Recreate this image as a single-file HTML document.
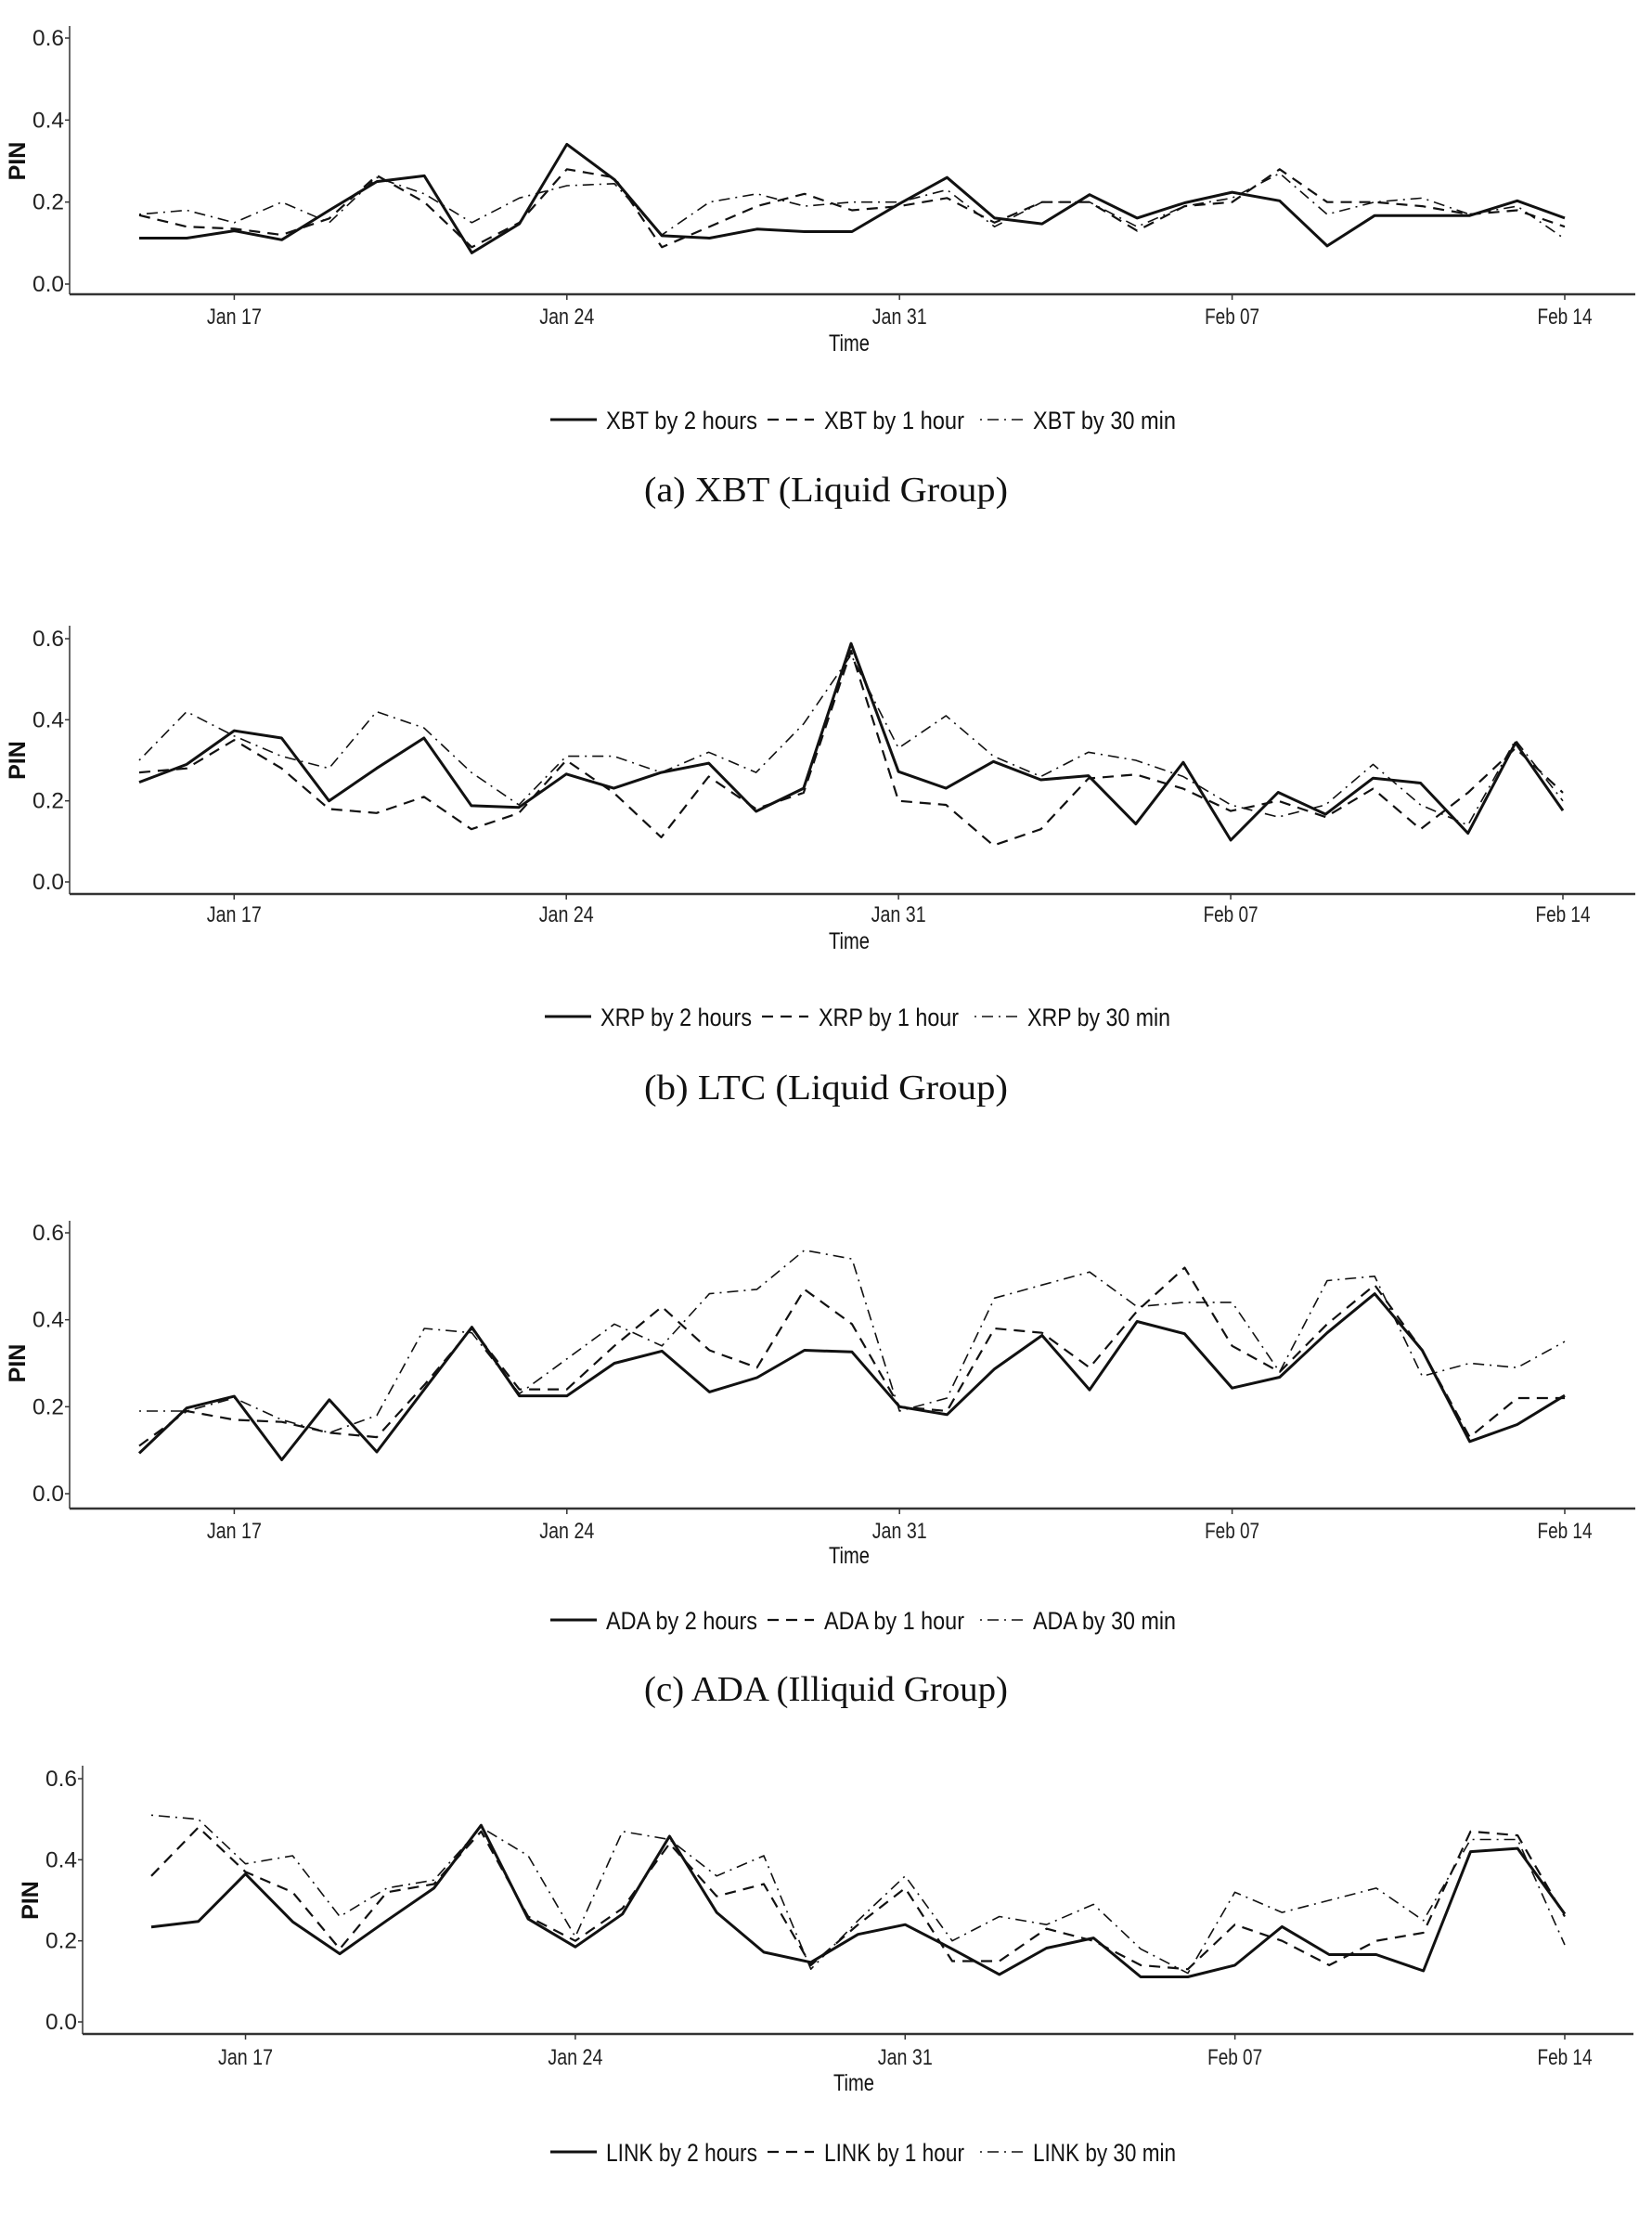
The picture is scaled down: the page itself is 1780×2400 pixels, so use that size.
<!DOCTYPE html>
<html><head><meta charset="utf-8">
<style>
html,body{margin:0;padding:0;background:#fff;}
svg{display:block;}
.tick{font-family:"Liberation Sans",sans-serif;font-size:24px;fill:#222;}
.lab{font-family:"Liberation Sans",sans-serif;font-size:25px;fill:#111;}
.leg{font-family:"Liberation Sans",sans-serif;font-size:27px;fill:#111;}
.cap{font-family:"Liberation Serif",serif;font-size:38px;fill:#111;}
</style></head>
<body>
<svg id="chart" width="1780" height="2400" viewBox="0 0 1780 2400" xmlns="http://www.w3.org/2000/svg"></svg>
<script>
const dateTicks = ["Jan 17","Jan 24","Jan 31","Feb 07","Feb 14"];
const tickDays = [2,9,16,23,30];
const yTicks = [0.0,0.2,0.4,0.6];
const xbt2h = [0.112,0.112,0.13,0.108,0.18,0.25,0.264,0.076,0.147,0.341,0.255,0.118,0.112,0.134,0.128,0.128,0.196,0.26,0.161,0.147,0.218,0.161,0.198,0.224,0.203,0.093,0.167,0.167,0.167,0.203,0.161];
const xbt1h = [0.168,0.14,0.135,0.12,0.16,0.265,0.2,0.09,0.15,0.28,0.26,0.09,0.14,0.19,0.22,0.18,0.19,0.21,0.15,0.2,0.2,0.13,0.19,0.2,0.28,0.2,0.2,0.19,0.17,0.18,0.14];
const xbt30 = [0.17,0.18,0.15,0.2,0.15,0.26,0.22,0.15,0.21,0.24,0.245,0.12,0.2,0.22,0.19,0.2,0.2,0.23,0.14,0.2,0.2,0.14,0.19,0.21,0.27,0.17,0.2,0.21,0.17,0.19,0.11];
const xrp2h = [0.246,0.29,0.373,0.355,0.2,0.28,0.355,0.188,0.184,0.266,0.231,0.27,0.293,0.174,0.231,0.588,0.272,0.231,0.297,0.252,0.262,0.143,0.295,0.103,0.221,0.167,0.256,0.244,0.12,0.343,0.176];
const xrp1h = [0.27,0.28,0.35,0.28,0.18,0.17,0.21,0.13,0.17,0.3,0.22,0.11,0.26,0.18,0.22,0.57,0.2,0.19,0.09,0.13,0.255,0.265,0.23,0.175,0.2,0.16,0.23,0.13,0.22,0.33,0.22];
const xrp30 = [0.3,0.42,0.36,0.31,0.28,0.42,0.38,0.27,0.19,0.31,0.31,0.27,0.32,0.27,0.39,0.56,0.33,0.41,0.31,0.26,0.32,0.3,0.26,0.19,0.16,0.19,0.29,0.19,0.14,0.35,0.2];
const ada2h = [0.093,0.197,0.224,0.078,0.216,0.096,0.24,0.383,0.225,0.225,0.3,0.328,0.234,0.267,0.33,0.326,0.2,0.182,0.287,0.364,0.239,0.396,0.368,0.243,0.268,0.37,0.46,0.33,0.12,0.159,0.226];
const ada1h = [0.11,0.19,0.17,0.165,0.14,0.13,0.25,0.38,0.24,0.24,0.34,0.43,0.33,0.29,0.47,0.39,0.2,0.19,0.38,0.37,0.29,0.42,0.52,0.34,0.28,0.39,0.48,0.33,0.13,0.22,0.22];
const ada30 = [0.19,0.19,0.22,0.17,0.14,0.18,0.38,0.37,0.23,0.31,0.39,0.34,0.46,0.47,0.56,0.54,0.19,0.22,0.45,0.48,0.51,0.43,0.44,0.44,0.28,0.49,0.5,0.27,0.3,0.29,0.35];
const link2h = [0.234,0.248,0.365,0.247,0.168,0.25,0.33,0.485,0.254,0.185,0.266,0.458,0.27,0.172,0.147,0.216,0.24,0.18,0.117,0.182,0.207,0.111,0.111,0.14,0.235,0.166,0.166,0.126,0.42,0.428,0.266];
const link1h = [0.36,0.48,0.37,0.32,0.18,0.32,0.34,0.47,0.26,0.2,0.28,0.44,0.31,0.34,0.14,0.24,0.33,0.15,0.15,0.23,0.2,0.14,0.13,0.24,0.2,0.14,0.2,0.22,0.47,0.46,0.26];
const link30 = [0.51,0.5,0.39,0.41,0.26,0.33,0.35,0.48,0.41,0.21,0.47,0.45,0.36,0.41,0.13,0.25,0.36,0.2,0.26,0.24,0.29,0.18,0.12,0.32,0.27,0.3,0.33,0.25,0.45,0.45,0.19];

const NS="http://www.w3.org/2000/svg";
const svg=document.getElementById('chart');
function mk(tag,attrs,parent,text){const e=document.createElementNS(NS,tag);for(const k in attrs)e.setAttribute(k,attrs[k]);if(text!==undefined)e.textContent=text;parent.appendChild(e);return e;}

const panels=[
 {id:'xbt',sym:'XBT',series:[xbt2h,xbt1h,xbt30],axX:75,right:1762,y06:41,y0:306,axY:317,top:28,day0:150,day30:1686,tickY:340,timeY:369,timeX:915,legY:452,cap:"(a)  XBT (Liquid Group)",capY:540},
 {id:'xrp',sym:'XRP',series:[xrp2h,xrp1h,xrp30],axX:75,right:1762,y06:688,y0:950,axY:963,top:674,day0:150,day30:1684,tickY:984,timeY:1013,timeX:915,legY:1095,cap:"(b)  LTC (Liquid Group)",capY:1184},
 {id:'ada',sym:'ADA',series:[ada2h,ada1h,ada30],axX:75,right:1762,y06:1328,y0:1609,axY:1625,top:1315,day0:150,day30:1686,tickY:1648,timeY:1675,timeX:915,legY:1745,cap:"(c)  ADA (Illiquid Group)",capY:1832},
 {id:'link',sym:'LINK',series:[link2h,link1h,link30],axX:89,right:1760,y06:1916,y0:2178,axY:2191,top:1902,day0:163,day30:1686,tickY:2215,timeY:2243,timeX:920,legY:2318,cap:null}
];
const styles=[{w:3,d:''},{w:2.2,d:'12,8'},{w:1.6,d:'2,6,12,6'}];
const labels=['by 2 hours','by 1 hour','by 30 min'];
const snames=['2h','1h','30m'];

panels.forEach(p=>{
 const g=mk('g',{},svg);
 
 
 const xs=d=>p.day0+(p.day30-p.day0)*d/30;
 const ys=v=>p.y0+(p.y06-p.y0)*v/0.6;
 const ya=mk('line',{x1:p.axX,y1:p.top,x2:p.axX,y2:p.axY,stroke:'#333','stroke-width':1.5},g);
 
 
 const xa=mk('line',{x1:p.axX,y1:p.axY,x2:p.right,y2:p.axY,stroke:'#333','stroke-width':2.5},g);
 
 
 yTicks.forEach(v=>{
  mk('line',{x1:p.axX-5,y1:ys(v),x2:p.axX,y2:ys(v),stroke:'#333','stroke-width':1.5},g);
  const t=mk('text',{x:p.axX-6,y:ys(v)+8,'text-anchor':'end',class:'tick',textLength:34,lengthAdjust:'spacingAndGlyphs'},g,v.toFixed(1));
  
  
 });
 tickDays.forEach((d,i)=>{
  mk('line',{x1:xs(d),y1:p.axY,x2:xs(d),y2:p.axY+6,stroke:'#333','stroke-width':1.5},g);
  const t=mk('text',{x:xs(d),y:p.tickY+9,'text-anchor':'middle',class:'tick',textLength:59,lengthAdjust:'spacingAndGlyphs'},g,dateTicks[i]);
  
  
 });
 const yl=mk('text',{x:0,y:0,'text-anchor':'middle',class:'lab','font-weight':'bold',transform:`translate(${p.axX-48},${(p.y0+p.y06)/2}) rotate(-90)`},g,'PIN');
 
 
 const xl=mk('text',{x:p.timeX,y:p.timeY+9,'text-anchor':'middle',class:'lab',textLength:44,lengthAdjust:'spacingAndGlyphs'},g,'Time');
 
 
 p.series.forEach((arr,si)=>{
  const pts=arr.map((v,i)=>xs(i).toFixed(1)+','+ys(v).toFixed(1)).join(' ');
  const pl=mk('polyline',{points:pts,fill:'none',stroke:'#111','stroke-width':styles[si].w,'stroke-dasharray':styles[si].d,'stroke-linejoin':'round'},g);
  
  
 });
 const lx=[593,827,1056], tx=[653,888,1113], tw=[163,151,154];
 if(p.id==='xrp'){lx.forEach((v,i)=>{lx[i]=v-6;tx[i]-=6;});}
 styles.forEach((s,si)=>{
  const lg=mk('g',{},g);
  
  
  mk('line',{x1:lx[si],y1:p.legY,x2:lx[si]+50,y2:p.legY,stroke:'#111','stroke-width':s.w,'stroke-dasharray':s.d},lg);
  mk('text',{x:tx[si],y:p.legY+10,class:'leg',textLength:tw[si],lengthAdjust:'spacingAndGlyphs'},lg,p.sym+' '+labels[si]);
 });
 if(p.cap){
  const c=mk('text',{x:890,y:p.capY,'text-anchor':'middle',class:'cap',textLength:392,lengthAdjust:'spacingAndGlyphs'},g,p.cap);
  
  
 }
});
</script>
</body></html>
